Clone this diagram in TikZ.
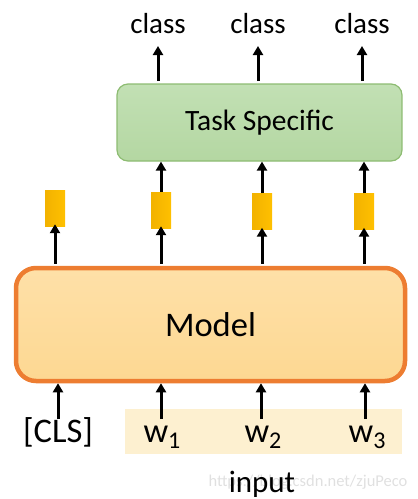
\documentclass[tikz,border=0pt]{standalone}
\usepackage{fontspec}
\setmainfont{Carlito}
\usetikzlibrary{arrows.meta}
\definecolor{gfill}{HTML}{B4D7A2}
\definecolor{gfilltop}{HTML}{C2E0B4}
\definecolor{gdraw}{HTML}{8DBC72}
\definecolor{ofill}{HTML}{FDD892}
\definecolor{ofilltop}{HTML}{FEE0A8}
\definecolor{odraw}{HTML}{ED7D31}
\definecolor{bar}{HTML}{FFC000}
\definecolor{bardark}{HTML}{F2B200}
\definecolor{band}{HTML}{FDF0D0}
\newcommand{\mysub}[1]{\raisebox{-6pt}{\fontsize{24}{28}\selectfont #1}}
\begin{document}
\begin{tikzpicture}[x=1pt,y=-1pt,
  arr/.style={line width=3pt,-{Triangle[width=10pt,length=9pt]}},
  lbl/.style={inner sep=0pt,font=\fontsize{29}{34}\selectfont},
  barbox/.style={minimum width=20pt,minimum height=36pt,inner sep=0pt,
    left color=bardark,right color=bar,draw=none},
  wlbl/.style={inner sep=0pt,font=\fontsize{34.5}{40}\selectfont}]
\useasboundingbox (0,0) rectangle (418,499);
% input band
\fill[band] (125,409) rectangle (402,454);
% watermark
\node[inner sep=0pt,anchor=base,text=black!12,font=\fontsize{16.5}{20}\selectfont] (wm) at (308,486) {https://blog.csdn.net/zjuPeco};
% boxes
\node[draw=gdraw,line width=1.2pt,rounded corners=11pt,top color=gfilltop,bottom color=gfill,
  minimum width=285pt,minimum height=77pt,font=\fontsize{29.5}{34}\selectfont] (task) at (259.5,122.5) {Task Specific};
\node[draw=odraw,line width=4.5pt,rounded corners=20pt,top color=ofilltop,bottom color=ofill,
  minimum width=389pt,minimum height=113pt,font=\fontsize{34.5}{40}\selectfont] (model) at (210.5,324.5) {Model};
% bars
\node[barbox] (b0) at (55,208) {};
\node[barbox] (b1) at (161,210) {};
\node[barbox] (b2) at (262,211.5) {};
\node[barbox] (b3) at (364,211.5) {};
% class labels
\node[lbl,anchor=base] (c1) at (158,33) {class};
\node[lbl,anchor=base] (c2) at (258,33) {class};
\node[lbl,anchor=base] (c3) at (362,33) {class};
% input labels
\node[wlbl,anchor=base] (cls) at (58,442) {[CLS]};
\node[wlbl,anchor=base] (w1) at (162,442) {w\mysub{1}};
\node[wlbl,anchor=base] (w2) at (263,442) {w\mysub{2}};
\node[wlbl,anchor=base] (w3) at (367,442) {w\mysub{3}};
\node[inner sep=0pt,anchor=base,font=\fontsize{31}{36}\selectfont] (inp) at (262,492) {input};
% arrows: task -> class
\coordinate (t1) at (158,81);
\coordinate (t2) at (258,81);
\coordinate (t3) at (362,81);
\draw[arr] (t1) -- (158,46) coordinate (ct1);
\draw[arr] (t2) -- (258,46) coordinate (ct2);
\draw[arr] (t3) -- (362,46) coordinate (ct3);
% bars -> task
\draw[arr] (b1.north) -- (b1.north |- task.south);
\draw[arr] (b2.north) -- (b2.north |- task.south);
\draw[arr] (b3.north) -- (b3.north |- task.south);
% model -> bars
\draw[arr] (b0.south |- model.north) ++(0,-2) -- ([yshift=2pt]b0.south);
\draw[arr] (b1.south |- model.north) ++(0,-2) -- ([yshift=2pt]b1.south);
\draw[arr] (b2.south |- model.north) ++(0,-2) -- ([yshift=2pt]b2.south);
\draw[arr] (b3.south |- model.north) ++(0,-2) -- ([yshift=2pt]b3.south);
% inputs -> model
\draw[arr] (58,419) coordinate (ic) -- (ic |- model.south) ;
\draw[arr] (161,419) coordinate (i1) -- (i1 |- model.south);
\draw[arr] (261,419) coordinate (i2) -- (i2 |- model.south);
\draw[arr] (365,419) coordinate (i3) -- (i3 |- model.south);
\end{tikzpicture}
\end{document}
